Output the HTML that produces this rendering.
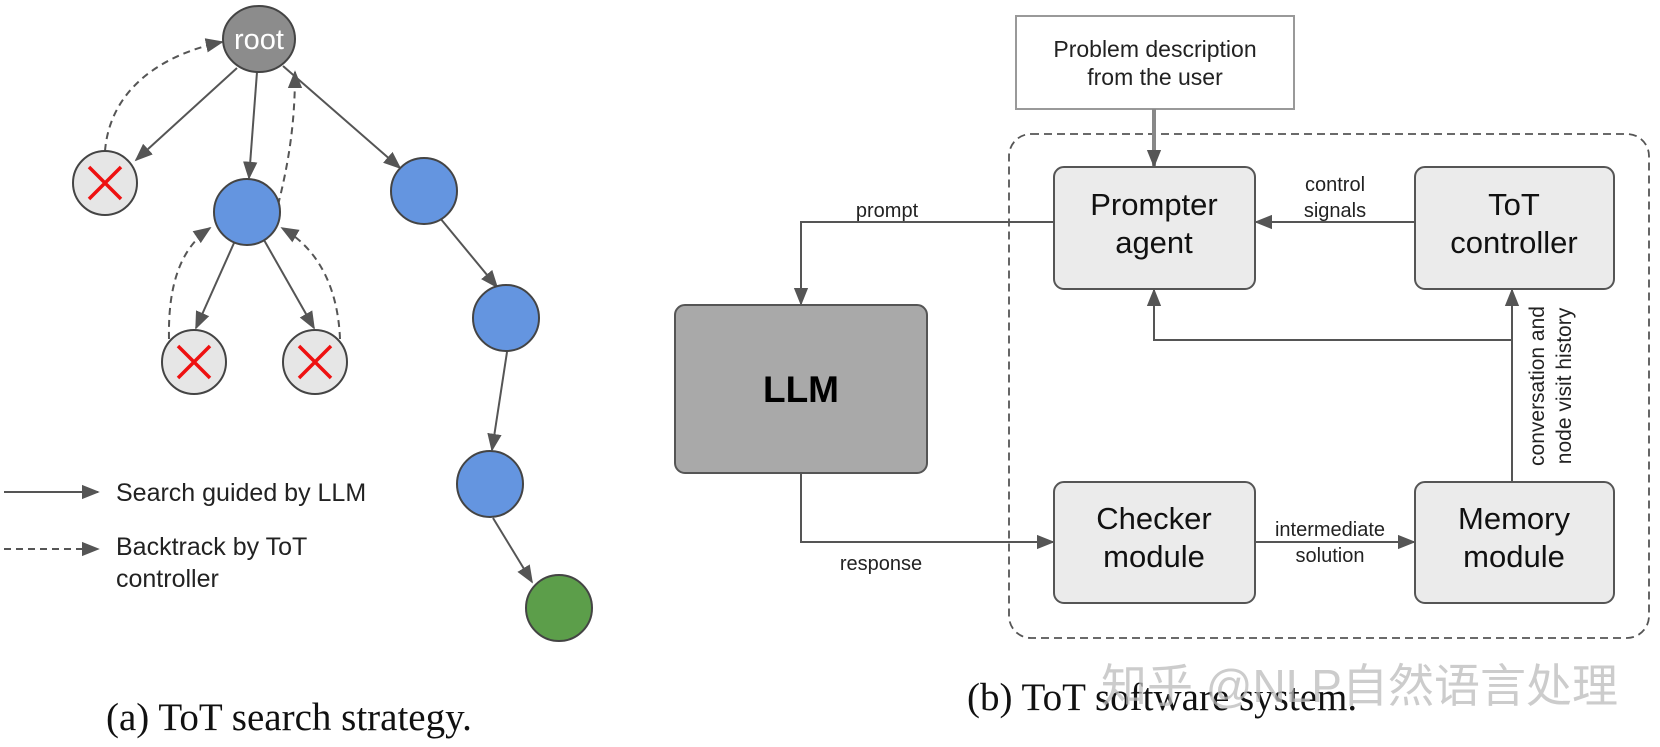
<!DOCTYPE html>
<html><head><meta charset="utf-8"><style>
html,body{margin:0;padding:0;background:#fff;width:1660px;height:747px;overflow:hidden}
svg text{font-family:"Liberation Sans",sans-serif}
</style></head><body>
<svg width="1660" height="747" viewBox="0 0 1660 747" xmlns="http://www.w3.org/2000/svg">
<defs>
<marker id="b" viewBox="0 0 10 10" refX="9" refY="5" markerWidth="18" markerHeight="18" orient="auto" markerUnits="userSpaceOnUse">
<path d="M0,1 L10,5 L0,9 z" fill="#555"/></marker>
</defs>
<g stroke="#555" stroke-width="2" fill="none">
<line x1="237" y1="68" x2="136" y2="160" marker-end="url(#b)"/>
<line x1="257" y1="72" x2="249" y2="178" marker-end="url(#b)"/>
<line x1="283" y1="66" x2="400" y2="168" marker-end="url(#b)"/>
<line x1="234" y1="243" x2="196" y2="328" marker-end="url(#b)"/>
<line x1="264" y1="240" x2="314" y2="328" marker-end="url(#b)"/>
<line x1="440" y1="218" x2="497" y2="287" marker-end="url(#b)"/>
<line x1="507" y1="352" x2="492" y2="450" marker-end="url(#b)"/>
<line x1="493" y1="518" x2="532" y2="582" marker-end="url(#b)"/>
<g stroke-dasharray="7,5">
<path d="M105,151 C110,90 160,55 222,42" marker-end="url(#b)"/>
<path d="M278,205 C292,150 295,110 295,72" marker-end="url(#b)"/>
<path d="M169,339 C168,290 178,250 210,228" marker-end="url(#b)"/>
<path d="M340,339 C338,290 320,250 282,228" marker-end="url(#b)"/>
<line x1="4" y1="549" x2="98" y2="549" marker-end="url(#b)"/>
</g>
<line x1="4" y1="492" x2="98" y2="492" marker-end="url(#b)"/>
</g>
<g stroke="#444" stroke-width="2">
<ellipse cx="259" cy="39" rx="36" ry="33" fill="#8c8c8c"/>
<circle cx="105" cy="183" r="32" fill="#e6e6e6"/>
<circle cx="194" cy="362" r="32" fill="#e6e6e6"/>
<circle cx="315" cy="362" r="32" fill="#e6e6e6"/>
<circle cx="247" cy="212" r="33" fill="#6495e0"/>
<circle cx="424" cy="191" r="33" fill="#6495e0"/>
<circle cx="506" cy="318" r="33" fill="#6495e0"/>
<circle cx="490" cy="484" r="33" fill="#6495e0"/>
<circle cx="559" cy="608" r="33" fill="#5c9e4a"/>
</g>
<g stroke="#ee1111" stroke-width="3.5">
<path d="M89,167 L121,199 M121,167 L89,199"/>
<path d="M178,346 L210,378 M210,346 L178,378"/>
<path d="M299,346 L331,378 M331,346 L299,378"/>
</g>
<text x="259" y="49" font-size="29" fill="#fff" text-anchor="middle">root</text>
<text x="116" y="501" font-size="25" fill="#222">Search guided by LLM</text>
<text x="116" y="555" font-size="25" fill="#222">Backtrack by ToT</text>
<text x="116" y="587" font-size="25" fill="#222">controller</text>
<text x="106" y="730" font-size="39" fill="#111" style="font-family:'Liberation Serif',serif">(a) ToT search strategy.</text>

<rect x="1016" y="16" width="278" height="93" fill="#fff" stroke="#999" stroke-width="2"/>
<text x="1155" y="57" font-size="23" fill="#222" text-anchor="middle">Problem description</text>
<text x="1155" y="85" font-size="23" fill="#222" text-anchor="middle">from the user</text>
<rect x="1009" y="134" width="640" height="504" rx="22" fill="none" stroke="#555" stroke-width="1.8" stroke-dasharray="8,5"/>
<line x1="1154" y1="109" x2="1154" y2="166" stroke="#888" stroke-width="4" marker-end="url(#b)"/>
<g fill="#ebebeb" stroke="#555" stroke-width="2">
<rect x="1054" y="167" width="201" height="122" rx="10"/>
<rect x="1415" y="167" width="199" height="122" rx="10"/>
<rect x="1054" y="482" width="201" height="121" rx="10"/>
<rect x="1415" y="482" width="199" height="121" rx="10"/>
<rect x="675" y="305" width="252" height="168" rx="10" fill="#a9a9a9"/>
</g>
<g font-size="31" fill="#111" text-anchor="middle">
<text x="1154" y="215">Prompter</text><text x="1154" y="253">agent</text>
<text x="1514" y="215">ToT</text><text x="1514" y="253">controller</text>
<text x="1154" y="529">Checker</text><text x="1154" y="567">module</text>
<text x="1514" y="529">Memory</text><text x="1514" y="567">module</text>
</g>
<text x="801" y="402" font-size="37" font-weight="bold" fill="#000" text-anchor="middle">LLM</text>
<g stroke="#555" stroke-width="2" fill="none">
<polyline points="1054,222 801,222 801,304" marker-end="url(#b)"/>
<polyline points="801,473 801,542 1053,542" marker-end="url(#b)"/>
<line x1="1415" y1="222" x2="1256" y2="222" marker-end="url(#b)"/>
<line x1="1255" y1="542" x2="1414" y2="542" marker-end="url(#b)"/>
<line x1="1512" y1="482" x2="1512" y2="290" marker-end="url(#b)"/>
<polyline points="1512,340 1154,340 1154,290" marker-end="url(#b)"/>
</g>
<g font-size="20" fill="#222" text-anchor="middle">
<text x="887" y="217">prompt</text>
<text x="881" y="570">response</text>
<text x="1335" y="191">control</text><text x="1335" y="217">signals</text>
<text x="1330" y="536">intermediate</text><text x="1330" y="562">solution</text>
<text font-size="21" transform="translate(1544,386) rotate(-90)">conversation and</text>
<text font-size="21" transform="translate(1571,386) rotate(-90)">node visit history</text>
</g>
<text x="967" y="710" font-size="39" fill="#111" style="font-family:'Liberation Serif',serif">(b) ToT software system.</text>
<text x="1101" y="702" font-size="46" fill="#bbb" fill-opacity="0.75" style="font-family:'Liberation Sans','Noto Sans CJK SC',sans-serif">知乎 @NLP自然语言处理</text>
</svg>
</body></html>
